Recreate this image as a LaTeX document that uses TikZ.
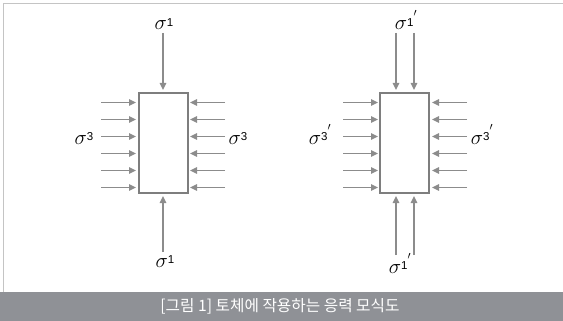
\documentclass[tikz,border=0pt]{standalone}
\usepackage{fontspec}
\newfontfamily\krfont{Noto Sans CJK KR}
\newfontfamily\digfont{Liberation Sans}
\usetikzlibrary{arrows.meta, positioning}

\definecolor{arrowgray}{HTML}{8C8C8C}
\definecolor{boxgray}{HTML}{7E7E7E}
\definecolor{framegray}{HTML}{C4C4C4}
\definecolor{bandgray}{HTML}{8F9196}

% sigma with a small raised index, optional prime
\newcommand{\sgm}[1]{{\fontsize{20}{20}\selectfont$\sigma$}\raisebox{3.5pt}{\digfont\fontsize{11.5}{11.5}\selectfont #1}}
\newcommand{\sgmp}[1]{\sgm{#1}\raisebox{8pt}{\fontsize{15}{15}\selectfont$'$}}

\begin{document}
\begin{tikzpicture}[x=1pt, y=-1pt,
  push/.style={draw=arrowgray, line width=1.4pt, -{Triangle[length=7pt,width=6.5pt]}},
  block/.style={draw=boxgray, line width=2pt, fill=white, minimum width=49pt, minimum height=100pt, inner sep=0pt},
  lbl/.style={anchor=base, inner sep=0pt}]
\useasboundingbox (0,0) rectangle (563,321);
\draw[framegray, line width=1pt] (3.5,292) -- (3.5,3.5) -- (563,3.5);
\fill[bandgray] (0,292) rectangle (563,321);
\node[text=white, font=\krfont\fontsize{15.7}{18}\selectfont] (cap) at (280,306) {[그림 1] 토체에 작용하는 응력 모식도};

% left element
\node[block] (L) at (163,143) {};
\foreach \y in {102.5,119.5,...,187.5} {
  \draw[push] (101,\y) -- (136,\y);
  \draw[push] (225,\y) -- (190,\y);
}
\draw[push] (163,33) -- (163,90);
\draw[push] (163,252) -- (163,196);
\node[lbl] (s1t) at (164,30) {\sgm{1}};
\node[lbl] (s1b) at (165,267) {\sgm{1}};
\node[lbl] (s3l) at (84,144) {\sgm{3}};
\node[lbl] (s3r) at (238,144) {\sgm{3}};

% right element
\node[block] (R) at (404.5,143) {};
\foreach \y in {102.5,119.5,...,187.5} {
  \draw[push] (343,\y) -- (378,\y);
  \draw[push] (467,\y) -- (432,\y);
}
\foreach \x in {396,414} {
  \draw[push] (\x,33) -- (\x,90);
  \draw[push] (\x,255) -- (\x,196);
}
\node[lbl] (s1pt) at (406,30) {\sgmp{1}};
\node[lbl] (s1pb) at (400,273) {\sgmp{1}};
\node[lbl] (s3pl) at (320,144) {\sgmp{3}};
\node[lbl] (s3pr) at (482,144) {\sgmp{3}};
\end{tikzpicture}
\end{document}
